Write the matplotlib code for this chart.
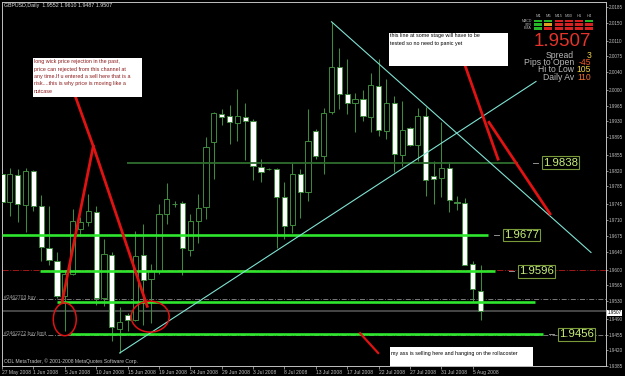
import matplotlib.pyplot as plt
from matplotlib.patches import Rectangle, Ellipse

plt.rcParams['font.family'] = ['Liberation Sans', 'DejaVu Sans']

# GBPUSD daily bars, 27 May 2008 .. 6 Aug 2008
opens = [1.9813, 1.9751, 1.9810, 1.9744, 1.9819, 1.9742, 1.9649, 1.9618, 1.9540, 1.9589,
         1.9691, 1.9706, 1.9728, 1.9536, 1.9633, 1.9467, 1.9498, 1.9487, 1.9633, 1.9578,
         1.9596, 1.9724, 1.9746, 1.9749, 1.9644, 1.9709, 1.9740, 1.9884, 1.9946, 1.9941,
         1.9926, 1.9939, 1.9932, 1.9828, 1.9824, 1.9824, 1.9762, 1.9700, 1.9813, 1.9773,
         1.9908, 1.9853, 1.9950, 2.0052, 1.9992, 1.9972, 1.9981, 1.9939, 2.0010, 1.9908,
         1.9970, 1.9855, 1.9915, 1.9877, 1.9943, 1.9808, 1.9804, 1.9826, 1.9750, 1.9749,
         1.9613, 1.9552]
highs = [1.9824, 1.9826, 1.9824, 1.9826, 1.9822, 1.9766, 1.9742, 1.9640, 1.9598, 1.9735,
         1.9717, 1.9768, 1.9742, 1.9669, 1.9640, 1.9516, 1.9502, 1.9686, 1.9702, 1.9613,
         1.9746, 1.9793, 1.9753, 1.9753, 1.9724, 1.9768, 1.9895, 1.9952, 1.9957, 1.9966,
         2.0003, 1.9972, 1.9935, 1.9846, 1.9826, 1.9826, 1.9795, 1.9837, 1.9824, 1.9957,
         1.9912, 1.9961, 2.0152, 2.0094, 2.0068, 1.9994, 2.0001, 2.0037, 2.0068, 2.0025,
         1.9986, 1.9975, 1.9917, 1.9961, 1.9963, 1.9841, 1.9928, 1.9839, 1.9764, 1.9760,
         1.9618, 1.9610]
lows = [1.9742, 1.9720, 1.9706, 1.9684, 1.9731, 1.9620, 1.9611, 1.9536, 1.9463, 1.9587,
        1.9675, 1.9697, 1.9520, 1.9518, 1.9440, 1.9414, 1.9463, 1.9485, 1.9476, 1.9480,
        1.9589, 1.9702, 1.9740, 1.9587, 1.9629, 1.9658, 1.9713, 1.9802, 1.9921, 1.9879,
        1.9886, 1.9844, 1.9799, 1.9795, 1.9822, 1.9647, 1.9669, 1.9682, 1.9715, 1.9753,
        1.9846, 1.9813, 1.9946, 1.9957, 1.9946, 1.9906, 1.9930, 1.9906, 1.9897, 1.9890,
        1.9817, 1.9830, 1.9875, 1.9841, 1.9764, 1.9746, 1.9762, 1.9728, 1.9733, 1.9609,
        1.9527, 1.9487]
closes = [1.9751, 1.9813, 1.9746, 1.9819, 1.9742, 1.9651, 1.9622, 1.9540, 1.9591, 1.9709,
          1.9706, 1.9731, 1.9536, 1.9635, 1.9471, 1.9483, 1.9487, 1.9631, 1.9576, 1.9596,
          1.9724, 1.9757, 1.9745, 1.9647, 1.9709, 1.9737, 1.9873, 1.9948, 1.9939, 1.9928,
          1.9941, 1.9932, 1.9830, 1.9817, 1.9823, 1.9762, 1.9697, 1.9813, 1.9773, 1.9886,
          1.9853, 1.9948, 2.0052, 1.9990, 1.9970, 1.9979, 1.9941, 2.0012, 1.9910, 1.9970,
          1.9857, 1.9910, 1.9877, 1.9943, 1.9799, 1.9802, 1.9826, 1.9755, 1.9749, 1.9611,
          1.9556, 1.9507]

date_labels = ['27 May 2008', '1 Jun 2008', '5 Jun 2008', '10 Jun 2008', '15 Jun 2008',
               '19 Jun 2008', '24 Jun 2008', '29 Jun 2008', '3 Jul 2008', '8 Jul 2008',
               '13 Jul 2008', '17 Jul 2008', '22 Jul 2008', '27 Jul 2008', '31 Jul 2008',
               '5 Aug 2008']
price_ticks = [2.0185, 2.0150, 2.0110, 2.0075, 2.0040, 2.0000, 1.9965, 1.9930, 1.9895,
               1.9855, 1.9820, 1.9785, 1.9745, 1.9710, 1.9675, 1.9640, 1.9600, 1.9565,
               1.9530, 1.9490, 1.9455, 1.9420, 1.9385]

# horizontal levels drawn on the chart
levels = [1.9838, 1.9677, 1.9596, 1.9527, 1.9456]
level_labels = ['1.9838', '1.9677', '1.9596', '', '1.9456']
order_levels = [1.9534, 1.9454]
order_labels = ['#2462703 buy', '#2462272 buy limit']

# indicator panel
tf_names = ['M1', 'M5', 'M15', 'M30', 'H1', 'H4']
ind_names = ['MACD', 'STR', 'EMA']
signals = [['g', 'g', 'r', 'r', 'r', 'g'],
           ['g', 'o', 'r', 'r', 'r', 'r'],
           ['g', 'r', 'r', 'r', 'r', 'r']]
info_names = ['Spread', 'Pips to Open', 'Hi to Low', 'Daily Av']
info_values = ['3', '-45', '105', '110']

notes = ['long wick price rejection in the past,',
         'price can rejected from this channel at',
         'any time.If u entered a sell here that is a',
         'risk....this is why price is moving like a',
         'nutcase']
note2 = ['this line at some stage will have to be', 'tested so no need to panic yet']
note3 = 'my ass is selling here and hanging on the rollacoster'

GREEN = '#3d8b3d'
LIME = '#2ee62e'
GRAY = '#c0c0c0'

fig = plt.figure(figsize=(6.25, 3.76), dpi=100, facecolor='black')
ax = fig.add_axes([2 / 625, 10 / 376, 604 / 625, 364 / 376])
ax.set_facecolor('black')

x_left = 0.04
y_lo, y_hi = 1.93894, 2.01961
ax.set_xlim(x_left, x_left + 604 / 7.85)
ax.set_ylim(y_lo, y_hi)


def at(px, py):
    # screen pixel inside the chart -> axes fraction
    return (px - 2) / 604, (366 - py) / 364


# candles
n = len(opens)
xs = list(range(n))
ax.vlines(xs, lows, highs, color=GREEN, lw=0.75, zorder=2)
for i in range(n):
    o, c = opens[i], closes[i]
    bull = c >= o
    ax.bar(i, max(abs(c - o), 0.00002), bottom=min(o, c), width=0.66,
           color='black' if bull else 'white', edgecolor=GREEN, lw=0.7, zorder=3)

# current price line
ax.axhline(closes[-1], color='#5a5a5a', lw=1.1, zorder=1)

# order lines
ax.axhline(1.9598, color='#a01818', lw=0.7, ls='-.', zorder=1)
for lv in order_levels:
    ax.axhline(lv, color='#8c8c8c', lw=0.6, ls=(0, (6, 2, 1, 2)), zorder=1)
ax.text(*at(4, 297), order_labels[0], transform=ax.transAxes, fontsize=3.6,
        color='#a0a0a0', va='center')
ax.text(*at(4, 333), order_labels[1], transform=ax.transAxes, fontsize=3.6,
        color='#a0a0a0', va='center')

# level lines
level_start = [15.96, 0.0, 4.88, 7.04, 8.70]
level_end = [65.77, 61.95, 62.84, 67.93, 68.95]
for k, lv in enumerate(levels):
    if k == 0:
        ax.hlines(lv, level_start[k], level_end[k], color='#2f6e2f', lw=1.3, zorder=4)
    else:
        ax.hlines(lv, level_start[k], level_end[k], color=LIME, lw=1.9, zorder=4)

box_left = [541, 502, 517, None, 557]
for k, lv in enumerate(levels):
    if not level_labels[k]:
        continue
    bx = box_left[k]
    ax.plot([(bx - 8 - 1.7) / 7.85, (bx - 3 - 1.7) / 7.85], [lv, lv],
            color='#909090', lw=0.7, zorder=4)
    ax.text((bx + 2 - 1.7) / 7.85, lv, level_labels[k], fontsize=8.2, color='#c8f07a',
            va='center', ha='left', zorder=6,
            bbox=dict(boxstyle='square,pad=0.12', fc='black', ec='#7a9a3a', lw=0.8))

# trend lines
ax.plot([42, 75.07], [highs[42], 1.9638], color='#7fe3d3', lw=0.8, zorder=5)
ax.plot([15, 68.06], [lows[15], 2.0019], color='#7fe3d3', lw=0.8, zorder=5)

# hand-drawn red marks
RED = '#e01212'
ax.plot([9.34, 11.63, 18.51], [1.9986, 1.9875, 1.9518], color=RED, lw=2.0, zorder=7)
ax.plot([11.63, 7.68], [1.9875, 1.9529], color=RED, lw=2.0, zorder=7)
ax.plot([58.89, 63.22], [2.0061, 1.9846], color=RED, lw=2.0, zorder=7)
ax.plot([62.07, 69.85], [1.9928, 1.9724], color=RED, lw=2.0, zorder=7)
ax.plot([45.64, 47.94], [1.9458, 1.9414], color=RED, lw=1.6, zorder=7)
ax.add_patch(Ellipse((8.0, 1.9489), 2.93, 0.0073, fill=False, ec=RED, lw=1.1, zorder=7))
ax.add_patch(Ellipse((18.89, 1.9495), 4.84, 0.0069, fill=False, ec=RED, lw=1.1, zorder=7))

# comment boxes
ax.add_patch(Rectangle((3.99, 1.99833), 13.88, 0.00887, fc='white', ec='none', zorder=8))
for k, line in enumerate(notes):
    ax.text(*at(34, 62 + 7.3 * k), line, transform=ax.transAxes, fontsize=3.9,
            color='#8b1a1a', va='center', zorder=9)
ax.add_patch(Rectangle((49.34, 2.00542), 15.16, 0.00732, fc='white', ec='none', zorder=8))
for k, line in enumerate(note2):
    ax.text(*at(390, 36 + 7.5 * k), line, transform=ax.transAxes, fontsize=3.9,
            color='black', va='center', zorder=9)
ax.add_patch(Rectangle((49.47, 1.9380), 18.23, 0.00471, fc='white', ec='none', zorder=8))
ax.text(*at(391, 353), note3, transform=ax.transAxes, fontsize=3.9,
        color='black', va='center', zorder=9)

# header and footer
ax.text(*at(4, 6), 'GBPUSD,Daily  1.9552 1.9610 1.9487 1.9507', transform=ax.transAxes,
        fontsize=3.8, color='#e0e0e0', va='center')
ax.text(*at(4, 361), 'ODL MetaTrader, \u00a9 2001-2008 MetaQuotes Software Corp.',
        transform=ax.transAxes, fontsize=3.6, color='#c8c8c8', va='center')

# indicator panel
sig_col = {'g': '#27b827', 'r': '#d82020', 'o': '#e0a020'}
col_x = [538, 548, 558.5, 569, 579, 589]
row_y = [21, 24.7, 28.4]
for j, name in enumerate(tf_names):
    ax.text(*at(col_x[j], 16), name, transform=ax.transAxes, fontsize=3.0,
            color='#b0b0b0', ha='center', va='center')
for r, name in enumerate(ind_names):
    ax.text(*at(532, row_y[r]), name, transform=ax.transAxes, fontsize=2.6,
            color='#b0b0b0', ha='right', va='center')
    for j in range(len(tf_names)):
        x0, y0 = at(col_x[j] - 4, row_y[r] + 1.2)
        ax.add_patch(Rectangle((x0, y0), 8 / 604, 2.4 / 364, transform=ax.transAxes,
                               fc=sig_col[signals[r][j]], ec='none', zorder=8))

ax.text(*at(591, 41), '%.4f' % closes[-1], transform=ax.transAxes, fontsize=13.5,
        color='#e3332b', ha='right', va='center')
val_col = ['#f0d040', '#f05a28', '#f0d040', '#f07030']
for k, name in enumerate(info_names):
    yy = 55 + 7.5 * k
    ax.text(*at(574, yy), name, transform=ax.transAxes, fontsize=6.2,
            color='#b8b8b8', ha='right', va='center')
    ax.text(*at(591, yy), info_values[k], transform=ax.transAxes, fontsize=6.2,
            color=val_col[k], ha='right', va='center')

# axes
ax.set_xticks(list(range(0, n, 4)))
ax.set_xticklabels(date_labels, ha='left')
ax.yaxis.tick_right()
ax.set_yticks(price_ticks)
ax.set_yticklabels(['%.4f' % p for p in price_ticks])
ax.tick_params(axis='x', colors=GRAY, labelsize=3.6, length=2, width=0.5, pad=1)
ax.tick_params(axis='y', colors=GRAY, labelsize=3.3, length=1.5, width=0.5, pad=0.6)
for s in ax.spines.values():
    s.set_color(GRAY)
    s.set_linewidth(0.7)

# current price marker on the axis
ax.text(1.003, (closes[-1] - y_lo) / (y_hi - y_lo), '%.4f' % closes[-1],
        transform=ax.transAxes, fontsize=3.3, color='black', va='center', ha='left',
        bbox=dict(boxstyle='square,pad=0.12', fc='white', ec='none'), clip_on=False)

fig.savefig('out.png', dpi=100, facecolor='black')
